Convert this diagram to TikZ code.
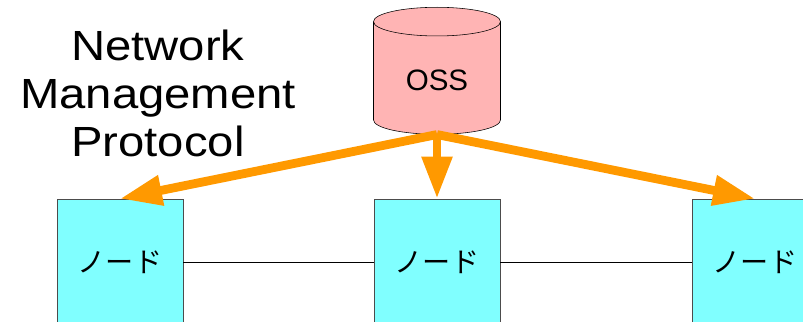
\documentclass[tikz,border=0pt]{standalone}
\usepackage{fontspec}
\setmainfont{Liberation Sans}
\newfontfamily\jpfont{Noto Sans CJK JP}
\newfontfamily\titrefont[FakeStretch=1.12]{Liberation Sans}
\usepackage{tikz}
\usetikzlibrary{positioning, shapes.geometric, arrows.meta}

\definecolor{rose}{RGB}{255,180,180}
\definecolor{cyanclair}{RGB}{128,255,255}
\definecolor{orangevif}{RGB}{255,153,0}

\begin{document}
\begin{tikzpicture}[auto, node distance=7.925cm, >={Triangle[length=1.05cm, width=0.72cm]}]
        % Définition des styles
        \tikzstyle{noeud} = [draw=black!70, fill=cyanclair, rectangle, minimum width=3.15cm, minimum height=3.15cm, font=\jpfont\fontsize{20}{22}\selectfont]
        \tikzstyle{base} = [draw, cylinder, shape border rotate=90, aspect=0.4, fill=rose, minimum width=3.175cm, minimum height=3.175cm, font=\fontsize{21}{24}\selectfont]
        \tikzstyle{lien} = [line width=0.7pt]
        \tikzstyle{gestion} = [->, line width=0.22cm, orangevif]

        \useasboundingbox (0,0) rectangle (20.075,8.025);

        % Noeuds du réseau
        \node [noeud] (noeud1) at (3.0,1.475) {ノード};
        \node [noeud, right of=noeud1] (noeud2) {ノード};
        \node [noeud, right of=noeud2, node distance=7.95cm] (noeud3) {ノード};

        % Base OSS au-dessus du noeud central
        \node [base, above of=noeud2, node distance=4.53cm] (oss) {OSS};

        % Texte du protocole
        \node [align=center, font=\titrefont\fontsize{30}{34}\selectfont] (protocole) at (3.95,5.69) {Network\\Management\\Protocol};

        % Liaisons entre les noeuds
        \draw [lien] (noeud1) -- (noeud2);
        \draw [lien] (noeud2) -- (noeud3);

        % Flèches de gestion depuis l'OSS
        \draw [gestion] (oss.south) -- (noeud1.north);
        \draw [gestion] (oss.south) -- (noeud2.north);
        \draw [gestion] (oss.south) -- (noeud3.north);

    \end{tikzpicture}
\end{document}
